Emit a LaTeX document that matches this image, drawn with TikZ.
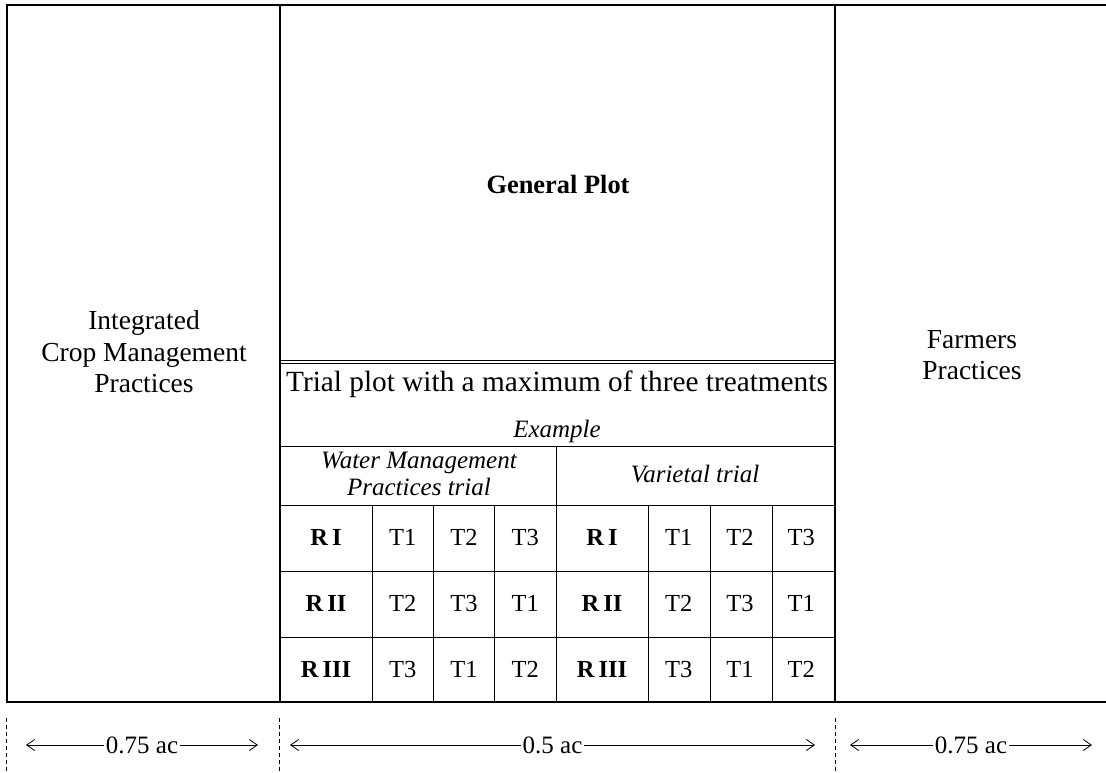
\documentclass[tikz,border=0pt]{standalone}
\usepackage{fontspec}
\setmainfont{Liberation Serif}
\usetikzlibrary{arrows.meta}
\tikzset{
  plotline/.style={line width=1.1pt},
  gridline/.style={line width=0.9pt},
  plotlabel/.style={align=center, font=\fontsize{27.5}{31.5}\selectfont},
  triallabel/.style={align=center, font=\fontsize{29.3}{34}\selectfont},
  italabel/.style={align=center, font=\fontsize{25}{27.5}\selectfont\itshape},
  replabel/.style={font=\fontsize{24.5}{30}\selectfont\bfseries},
  treatlabel/.style={font=\fontsize{24.5}{30}\selectfont},
  dimline/.style={line width=0.8pt,
    {Straight Barb[length=8pt,width=11pt]}-{Straight Barb[length=8pt,width=11pt]}},
  dimlabel/.style={fill=white, inner sep=2pt, font=\fontsize{25}{30}\selectfont},
  dimtick/.style={line width=0.7pt, dash pattern=on 4pt off 3pt}
}
\begin{document}
\begin{tikzpicture}[x=1pt, y=-1pt]
  \useasboundingbox (0,0) rectangle (1106,772);
  % outer field
  \draw[plotline] (1106,5) -- (7,5) -- (7,702) -- (1106,702);
  \draw[plotline] (280,5) -- (280,702);
  \draw[plotline] (835,5) -- (835,702);
  % general plot / trial plot
  \draw[gridline] (280,360) -- (835,360);
  \draw[gridline] (280,363.5) -- (835,363.5);
  \draw[gridline] (280,446) -- (835,446);
  \draw[gridline] (280,505) -- (835,505);
  \draw[gridline] (556,446) -- (556,702);
  \foreach \y in {571,637}
    \draw[gridline] (280,\y) -- (835,\y);
  \foreach \x in {372,433.3,494.7,648,710.3,772.7}
    \draw[gridline] (\x,505) -- (\x,702);
  % labels
  \node[plotlabel, font=\fontsize{26.4}{30}\selectfont\bfseries] (gp) at (558,184) {General Plot};
  \node[plotlabel] (icm) at (144,352) {Integrated\\Crop Management\\Practices};
  \node[plotlabel] (fp) at (972,355) {Farmers\\Practices};
  \node[triallabel] (trial) at (557,384) {Trial plot with a maximum of three treatments};
  \node[italabel] (ex) at (557,431) {Example};
  \node[italabel] (wmp) at (419,474) {Water Management\\Practices trial};
  \node[italabel] (var) at (695,474) {Varietal trial};
  % replicates and treatments
  \foreach \xo/\blk in {280/w,556/v}
    \foreach \rep/\ta/\tb/\tc/\y in {I/1/2/3/537, II/2/3/1/603, III/3/1/2/669} {
      \node[replabel] (\blk-R\rep) at (\xo+46,\y) {R\,\rep};
      \node[treatlabel] (\blk-\rep-a) at (\xo+122.7,\y) {T\ta};
      \node[treatlabel] (\blk-\rep-b) at (\xo+184,\y) {T\tb};
      \node[treatlabel] (\blk-\rep-c) at (\xo+245.3,\y) {T\tc};
    }
  % widths
  \foreach \x in {6,279,835}
    \draw[dimtick] (\x,718) -- (\x,772);
  \coordinate (d0) at (26,745);
  \coordinate (d1) at (258,745);
  \coordinate (d2) at (290,745);
  \coordinate (d3) at (815,745);
  \coordinate (d4) at (850,745);
  \coordinate (d5) at (1092,745);
  \draw[dimline] (d0) -- node[dimlabel] (w0) {0.75 ac} (d1);
  \draw[dimline] (d2) -- node[dimlabel] (w1) {0.5 ac} (d3);
  \draw[dimline] (d4) -- node[dimlabel] (w2) {0.75 ac} (d5);
\end{tikzpicture}
\end{document}
